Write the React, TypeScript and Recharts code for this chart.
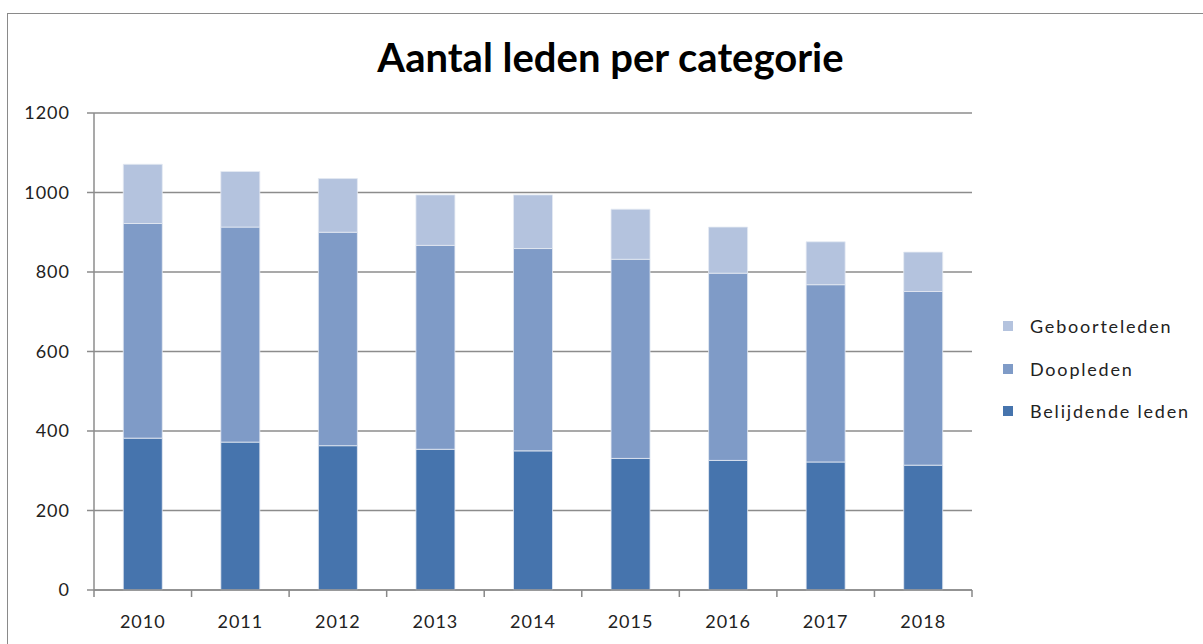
import React from 'react'

//* Recharts
import { Bar, BarChart, CartesianGrid, Legend, XAxis, YAxis } from 'recharts'

const years = ['2010', '2011', '2012', '2013', '2014', '2015', '2016', '2017', '2018']
const belijdendeLeden = [382, 372, 363, 354, 350, 331, 326, 322, 314]
const doopleden = [540, 541, 537, 513, 509, 501, 471, 446, 437]
const geboorteleden = [149, 140, 135, 127, 135, 126, 116, 108, 99]
const yTicks = [0, 200, 400, 600, 800, 1000, 1200]

const FONT = 'Lato, "Open Sans", sans-serif'

const data = years.map((year, i) => ({
    year,
    belijdend: belijdendeLeden[i],
    doop: doopleden[i],
    geboorte: geboorteleden[i]
}))

const YearTick = (props: any) => {
    const { x, y, payload, index } = props
    const half = payload.offset || 0
    return (
        <g>
            <line x1={x - half} x2={x - half} y1={y} y2={y + 7} stroke="#888" strokeWidth={1.5} />
            {index === years.length - 1 &&
                <line x1={x + half} x2={x + half} y1={y} y2={y + 7} stroke="#888" strokeWidth={1.5} />}
            <text x={x} y={y + 38} textAnchor="middle" fill="#222" fontSize={18} letterSpacing={1} fontFamily={FONT}>
                {payload.value}
            </text>
        </g>
    )
}

const LegendBox = (props: any) => {
    const items = [...(props.payload || [])].reverse()
    return (
        <div style={{ fontFamily: FONT, fontSize: 18, color: '#222' }}>
            {items.map((item: any) => (
                <div key={item.value} style={{ display: 'flex', alignItems: 'center', height: 42.5 }}>
                    <span style={{ width: 10, height: 10, background: item.color, marginRight: 17, display: 'inline-block' }} />
                    <span style={{ letterSpacing: 1.8 }}>{item.value}</span>
                </div>
            ))}
        </div>
    )
}

function App() {
    return (
        <div style={{ position: 'fixed', left: 0, top: 0, width: 1203, height: 644, overflow: 'hidden', background: '#fff' }}>
            <div style={{ position: 'absolute', left: 7, top: 13, width: 1230, height: 660, border: '1px solid #8a8a8a' }} />
            <div style={{
                position: 'absolute', left: 0, top: 33, width: 1221, textAlign: 'center',
                fontFamily: FONT, fontWeight: 'bold', fontSize: 40, color: '#000'
            }}>
                Aantal leden per categorie
            </div>
            <div style={{ position: 'absolute', left: 0, top: 0 }}>
                <BarChart
                    width={1203}
                    height={644}
                    data={data}
                    margin={{ top: 113, right: 31, bottom: 54, left: 34 }}
                    barCategoryGap="30%"
                >
                    <CartesianGrid vertical={false} stroke="#8c8c8c" strokeWidth={1.5} />
                    <XAxis
                        dataKey="year"
                        height={0.01}
                        tickSize={0}
                        tickMargin={0}
                        tick={<YearTick />}
                        axisLine={{ stroke: '#8c8c8c', strokeWidth: 1.5 }}
                        tickLine={false}
                        interval={0}
                    />
                    <YAxis
                        width={60}
                        domain={[0, 1200]}
                        ticks={yTicks}
                        tickSize={7}
                        tickMargin={17}
                        axisLine={{ stroke: '#8c8c8c', strokeWidth: 1.5 }}
                        tickLine={{ stroke: '#8c8c8c', strokeWidth: 1.5 }}
                        tick={{ fill: '#222', fontSize: 18, letterSpacing: 1, fontFamily: FONT }}
                    />
                    <Legend
                        layout="vertical"
                        align="right"
                        verticalAlign="top"
                        content={<LegendBox />}
                        wrapperStyle={{ position: 'absolute', left: 1003, top: 305, width: 200 }}
                    />
                    <Bar dataKey="belijdend" name="Belijdende leden" stackId="a" fill="#4674ad" stroke="#e4eaf3" strokeWidth={0.8} isAnimationActive={false} />
                    <Bar dataKey="doop" name="Doopleden" stackId="a" fill="#7f9bc7" stroke="#e4eaf3" strokeWidth={0.8} isAnimationActive={false} />
                    <Bar dataKey="geboorte" name="Geboorteleden" stackId="a" fill="#b4c3de" stroke="#e4eaf3" strokeWidth={0.8} isAnimationActive={false} />
                </BarChart>
            </div>
        </div>
    )
}

export default App
